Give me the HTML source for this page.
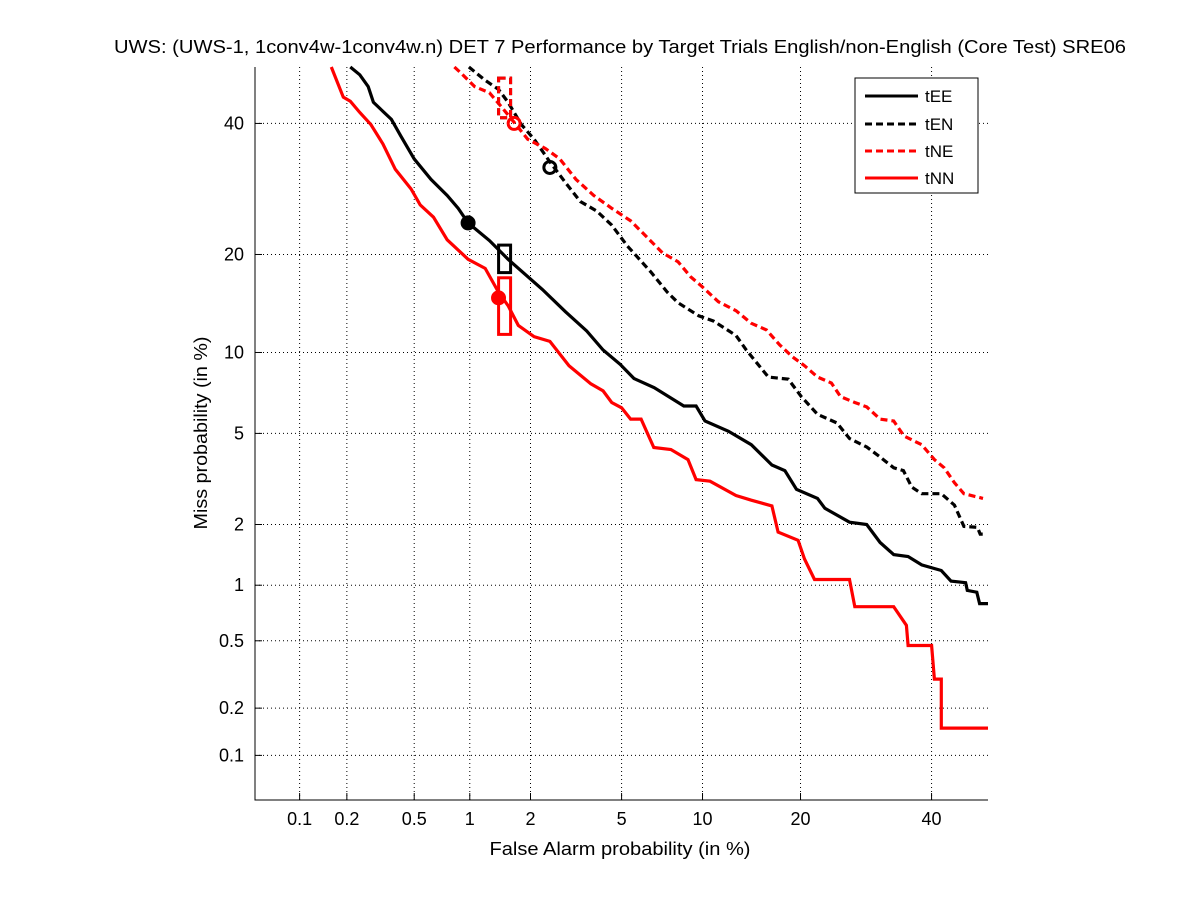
<!DOCTYPE html>
<html><head><meta charset="utf-8"><style>
html,body{margin:0;padding:0;background:#fff;}
svg text{font-family:"Liberation Sans",sans-serif;}
</style></head><body>
<svg id="chart" width="1201" height="900" xmlns="http://www.w3.org/2000/svg">
<rect width="1201" height="900" fill="#fff"/>
<text x="620" y="53" font-size="18" text-anchor="middle" textLength="1012" lengthAdjust="spacingAndGlyphs">UWS: (UWS-1, 1conv4w-1conv4w.n) DET 7 Performance by Target Trials English/non-English (Core Test) SRE06</text>
<text x="620" y="855" font-size="18" text-anchor="middle" textLength="261" lengthAdjust="spacingAndGlyphs">False Alarm probability (in %)</text>
<text x="0" y="0" font-size="18" text-anchor="middle" textLength="193" lengthAdjust="spacingAndGlyphs" transform="translate(207,433) rotate(-90)">Miss probability (in %)</text>
<g id="grid"></g><g id="axes"></g><g id="series"></g><g id="marks"></g>
<g>
<rect x="855" y="78" width="123" height="115" fill="#fff" stroke="#000" stroke-width="1"/>
<g><line x1="865" y1="96" x2="918" y2="96" stroke="#000" stroke-width="3"/><text x="925" y="102" font-size="17">tEE</text></g>
<g><line x1="865" y1="124" x2="918" y2="124" stroke="#000" stroke-width="3" stroke-dasharray="7,4"/><text x="925" y="130" font-size="17">tEN</text></g>
<g><line x1="865" y1="151" x2="918" y2="151" stroke="#f00" stroke-width="3" stroke-dasharray="7,4"/><text x="925" y="157" font-size="17">tNE</text></g>
<g><line x1="865" y1="178" x2="918" y2="178" stroke="#f00" stroke-width="3"/><text x="925" y="184" font-size="17">tNN</text></g>
</g>
</svg>
<script>
const xTicks=[0.1,0.2,0.5,1,2,5,10,20,40];
const yTicks=[0.1,0.2,0.5,1,2,5,10,20,40];
const tEE_fa=[0.21,0.24,0.27,0.29,0.37,0.42,0.5,0.62,0.76,0.87,0.98,1.26,1.56,2.27,2.89,3.58,4.2,4.93,5.6,6.7,8.6,9.5,10.2,12.2,14.4,16.6,18.1,19.5,22.2,23.2,26.7,29.3,31.4,33.6,36,38.3,41.7,43.4,46,46.3,48,48.5,50];
const tEE_miss=[50,48.6,46.5,43.7,40.7,37.8,34,30.7,28.2,26.3,24.2,21.8,19.4,15.9,13.6,11.8,10.2,9.1,8.1,7.5,6.4,6.4,5.6,5.1,4.5,3.7,3.5,2.9,2.64,2.38,2.05,2.0,1.64,1.43,1.4,1.27,1.19,1.05,1.03,0.94,0.92,0.8,0.8];
const tEN_fa=[0.99,1.19,1.4,1.56,1.81,2.08,2.46,2.89,3.36,3.95,4.56,5.27,6.5,7.5,8.2,9.7,10.9,12.9,13.9,16.2,18.5,20.1,22.2,24.9,26.7,29.3,31.4,33.6,35.2,36.6,38.3,41.7,44,45.7,48.1,48.6,49.5];
const tEN_miss=[50,47.7,46,43.7,39.8,37.3,33.5,30.2,27.3,25.9,23.9,21.1,17.9,15.6,14.5,13.2,12.7,11.4,10.2,8.2,8.05,6.95,5.95,5.5,4.77,4.4,4.0,3.6,3.5,2.97,2.77,2.77,2.46,1.96,1.94,1.8,1.8];
const tNE_fa=[0.83,0.9,1.06,1.26,1.44,1.67,1.94,2.35,2.73,3.22,3.84,4.56,5.43,6.35,7.2,8.2,9.1,9.9,11.3,12.9,14.4,16,17.5,19,20.5,22.2,24.1,25.4,27.5,29.3,31.4,33.6,35.3,38.3,40.5,42.2,44,45.7,49.1];
const tNE_miss=[50,48.9,46.5,45.4,43,40.2,37.3,35.7,34,30.7,28.2,26.3,24.5,22.1,20.2,19.1,17.3,16.3,14.6,13.7,12.5,11.9,10.6,9.66,9,8.2,7.8,6.95,6.6,6.35,5.7,5.6,4.88,4.5,3.9,3.6,3.1,2.77,2.64];
const tNN_fa=[0.16,0.19,0.21,0.24,0.28,0.33,0.39,0.48,0.54,0.64,0.76,0.98,1.2,1.4,1.56,1.75,2.08,2.46,3.0,3.73,4.2,4.56,5.0,5.43,5.97,6.68,7.73,8.9,9.5,10.6,12.9,14.4,16.6,17.3,19.7,20.5,21.8,26.7,27.5,33.6,35.7,36.0,40,40.5,41.7,41.7,50];
const tNN_miss=[50,44.6,43.9,41.9,39.8,36.5,32.3,29.2,26.8,25.0,21.9,19.4,18.3,15.6,14.2,12.3,11.3,10.9,9.0,7.75,7.3,6.6,6.3,5.7,5.7,4.38,4.3,3.9,3.2,3.15,2.72,2.59,2.44,1.84,1.68,1.36,1.07,1.07,0.77,0.77,0.61,0.47,0.47,0.3,0.3,0.15,0.15];
// operating point markers: [fa, miss]
const circleFa=[0.98,2.46,1.67,1.4];
const circleMiss=[24.2,32.6,40,15];
const boxFa=[1.5,1.5,1.5,1.5];
const boxMissLo=[17.8,41,41,11.5];
const boxMissHi=[21.2,48,48,17.2];

function ninv(p){
 const a=[-39.69683028665376,220.9460984245205,-275.9285104469687,138.3577518672690,-30.66479806614716,2.506628277459239];
 const b=[-54.47609879822406,161.5858368580409,-155.6989798598866,66.80131188771972,-13.28068155288572];
 const c=[-0.007784894002430293,-0.3223964580411365,-2.400758277161838,-2.549732539343734,4.374664141464968,2.938163982698783];
 const d=[0.007784695709041462,0.3224671290700398,2.445134137142996,3.754408661907416];
 let q,r;
 if(p<0.02425){q=Math.sqrt(-2*Math.log(p));return (((((c[0]*q+c[1])*q+c[2])*q+c[3])*q+c[4])*q+c[5])/((((d[0]*q+d[1])*q+d[2])*q+d[3])*q+1);}
 if(p>1-0.02425){q=Math.sqrt(-2*Math.log(1-p));return -(((((c[0]*q+c[1])*q+c[2])*q+c[3])*q+c[4])*q+c[5])/((((d[0]*q+d[1])*q+d[2])*q+d[3])*q+1);}
 q=p-0.5;r=q*q;return (((((a[0]*r+a[1])*r+a[2])*r+a[3])*r+a[4])*r+a[5])*q/(((((b[0]*r+b[1])*r+b[2])*r+b[3])*r+b[4])*r+1);
}
const L=255,R=988,T=67,B=800,pmin=ninv(0.0005),pmax=0;
function X(v){return L+(ninv(v/100)-pmin)/(pmax-pmin)*(R-L);}
function Y(v){return B-(ninv(v/100)-pmin)/(pmax-pmin)*(B-T);}
const NS="http://www.w3.org/2000/svg";
function mk(tag,parent,attrs){const e=document.createElementNS(NS,tag);for(const k in attrs)e.setAttribute(k,attrs[k]);parent.appendChild(e);return e;}
const grid=document.getElementById('grid'),axes=document.getElementById('axes'),ser=document.getElementById('series'),marks=document.getElementById('marks');
xTicks.forEach(t=>{const x=X(t);
 const g=mk('line',grid,{x1:x,y1:T,x2:x,y2:B,stroke:'#000','stroke-width':1,'stroke-dasharray':'1,3'});
 
 
 const tk=mk('line',axes,{x1:x,y1:B,x2:x,y2:B-7,stroke:'#000'});
 
 
 const tx=mk('text',axes,{x:x,y:825,'font-size':18,'text-anchor':'middle'});tx.textContent=String(t);
 
 
});
yTicks.forEach(t=>{const y=Y(t);
 const g=mk('line',grid,{x1:L,y1:y,x2:R,y2:y,stroke:'#000','stroke-width':1,'stroke-dasharray':'1,3'});
 
 
 const tk=mk('line',axes,{x1:L,y1:y,x2:L+7,y2:y,stroke:'#000'});
 
 
 const tx=mk('text',axes,{x:244,y:y+6,'font-size':18,'text-anchor':'end'});tx.textContent=String(t);
 
 
});
const ax=mk('path',axes,{d:`M${L},${T}V${B}H${R}`,fill:'none',stroke:'#000','stroke-width':1});


function line(fa,miss,color,dash,name){
 const pts=fa.map((f,i)=>X(f).toFixed(1)+','+Y(miss[i]).toFixed(1)).join(' ');
 const a={points:pts,fill:'none',stroke:color,'stroke-width':3.2,'stroke-linejoin':'miter'};
 if(dash)a['stroke-dasharray']='7,4';
 const e=mk('polyline',ser,a);
 
 
}
line(tEE_fa,tEE_miss,'#000',false,'series-tee');
line(tEN_fa,tEN_miss,'#000',true,'series-ten');
line(tNE_fa,tNE_miss,'#f00',true,'series-tne');
line(tNN_fa,tNN_miss,'#f00',false,'series-tnn');
const mColors=['#000','#000','#f00','#f00'],mFill=['#000','none','none','#f00'],bDash=[false,true,true,false];
circleFa.forEach((f,i)=>{
 const c=mk('circle',marks,{cx:X(f),cy:Y(circleMiss[i]),r:6,fill:mFill[i]==='none'?'none':mFill[i],stroke:mColors[i],'stroke-width':3});
 
 
 const x=X(boxFa[i]),y1=Y(boxMissHi[i]),y2=Y(boxMissLo[i]);
 const a={x:x-6,y:y1,width:12,height:y2-y1,fill:'none',stroke:mColors[i],'stroke-width':3};
 if(bDash[i])a['stroke-dasharray']='7,4';
 const b=mk('rect',marks,a);
 
 
});
</script>
</body></html>
